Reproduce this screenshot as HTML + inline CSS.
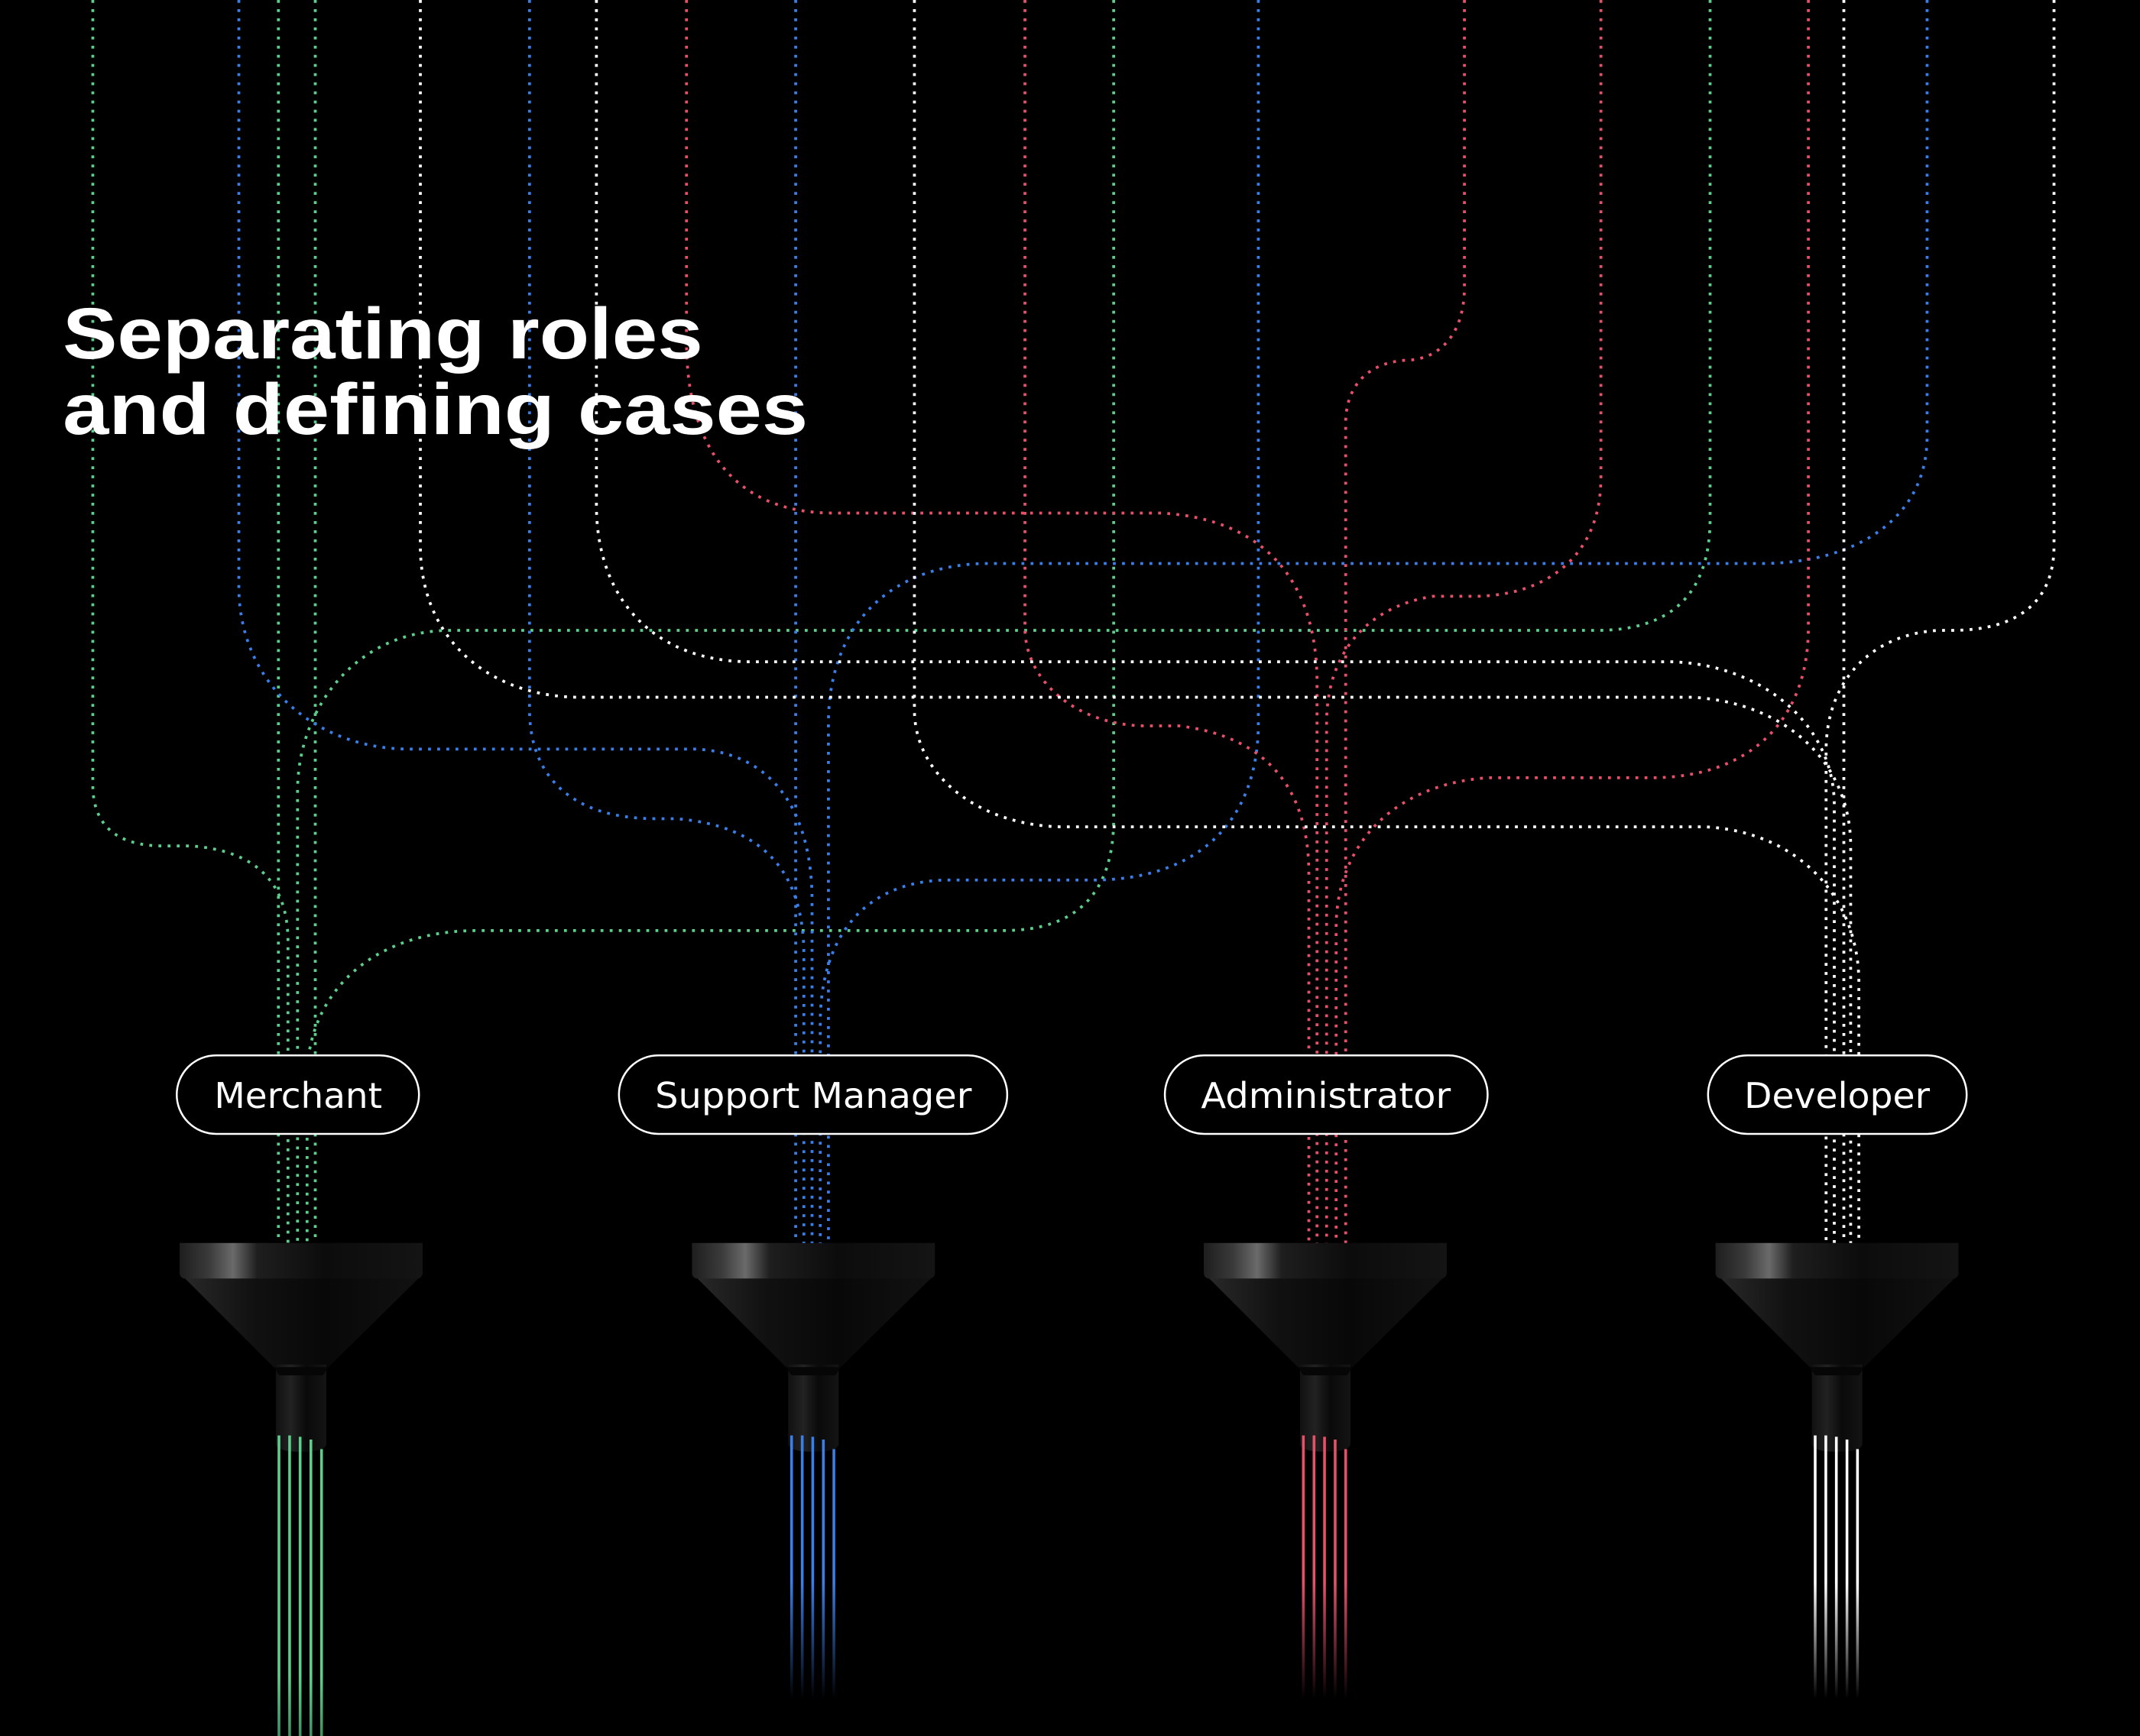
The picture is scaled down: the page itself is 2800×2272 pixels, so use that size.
<!DOCTYPE html>
<html><head><meta charset="utf-8"><style>
html,body{margin:0;padding:0;background:#000;}
svg{display:block;}
</style></head><body>
<svg width="2800" height="2272" viewBox="0 0 1568 1272.3" xmlns="http://www.w3.org/2000/svg">
<defs>
<linearGradient id="rim" x1="0" y1="0" x2="1" y2="0">
<stop offset="0" stop-color="#1e1e1e"/><stop offset="0.12" stop-color="#3a3a3a"/><stop offset="0.22" stop-color="#6a6a6a"/><stop offset="0.32" stop-color="#1e1e1e"/><stop offset="0.6" stop-color="#0c0c0c"/><stop offset="1" stop-color="#141414"/>
</linearGradient>
<linearGradient id="cone" x1="0" y1="0" x2="1" y2="0">
<stop offset="0" stop-color="#2a2a2a"/><stop offset="0.3" stop-color="#111"/><stop offset="0.6" stop-color="#080808"/><stop offset="1" stop-color="#121212"/>
</linearGradient>
<linearGradient id="neck" x1="0" y1="0" x2="1" y2="0">
<stop offset="0" stop-color="#111"/><stop offset="0.3" stop-color="#222"/><stop offset="0.6" stop-color="#0a0a0a"/><stop offset="1" stop-color="#141414"/>
</linearGradient>
<linearGradient id="fadeB" x1="0" y1="1055" x2="0" y2="1245" gradientUnits="userSpaceOnUse"><stop offset="0.55" stop-color="#3a7ee8"/><stop offset="1" stop-color="#3a7ee8" stop-opacity="0"/></linearGradient>
<linearGradient id="fadeR" x1="0" y1="1055" x2="0" y2="1245" gradientUnits="userSpaceOnUse"><stop offset="0.55" stop-color="#e8506a"/><stop offset="1" stop-color="#e8506a" stop-opacity="0"/></linearGradient>
<linearGradient id="fadeW" x1="0" y1="1055" x2="0" y2="1245" gradientUnits="userSpaceOnUse"><stop offset="0.55" stop-color="#ffffff"/><stop offset="1" stop-color="#ffffff" stop-opacity="0"/></linearGradient>
<linearGradient id="fadeG" x1="0" y1="1055" x2="0" y2="1272" gradientUnits="userSpaceOnUse"><stop offset="0.8" stop-color="#5ccf8c"/><stop offset="1" stop-color="#5ccf8c" stop-opacity="0.7"/></linearGradient>
<g id="funnel">
<path d="M-89,912 H89 V934 L20,1002 H-20 L-88,934 Z" fill="url(#cone)"/>
<path d="M-89,911 H89 V933 Q89,936 86,937 H-86 Q-89,936 -89,933 Z" fill="url(#rim)"/>
<path d="M-18.5,1000 H18.5 V1058 Q18.5,1064 0,1064 Q-18.5,1064 -18.5,1058 Z" fill="url(#neck)"/>
<path d="M-20,1002 L-16,1008 H16 L20,1002 Z" fill="#060606"/>
</g>
</defs>
<rect width="1568" height="1272.3" fill="#000"/>
<g fill="none" stroke-width="2.1" stroke-dasharray="2.1 4.6">
<g stroke="#5ccf8c">
<path d="M68,0 V575 Q68,620 120,620 H140 Q211,625 211,690 V912"/>
<path d="M204,0 V912"/>
<path d="M231,0 V912"/>
<path d="M1253,0 V380 Q1253,462 1170,462 H330 C260,462 218,520 218,580 V912"/>
<path d="M816,0 V600 Q816,682 735,682 H350 C270,682 225,730 225,790 V912"/>
</g>
<g stroke="#3a7ee8">
<path d="M583,0 V912"/>
<path d="M388,0 V520 C388,570 420,600 480,600 H495 C560,605 589,640 589,700 V912"/>
<path d="M175,0 V430 C175,500 230,549 300,549 H510 C570,552 595,600 595,660 V912"/>
<path d="M922,0 V530 C922,600 880,645 800,645 H690 C630,648 601,690 601,750 V912"/>
<path d="M1412,0 V320 C1412,380 1360,413 1290,413 H720 C650,415 607,460 607,530 V912"/>
</g>
<g stroke="#e8506a">
<path d="M503,0 V250 C503,330 540,376 610,376 H850 C930,380 965,430 965,500 V912"/>
<path d="M751,0 V460 C751,500 790,532 840,532 H864 C930,540 959,580 959,640 V912"/>
<path d="M1073,0 V210 C1073,250 1050,264 1030,264 C1000,266 986,285 986,310 V912"/>
<path d="M1173,0 V350 C1173,410 1130,437 1080,437 H1050 C1000,445 972,480 972,530 V912"/>
<path d="M1325,0 V460 C1325,530 1280,570 1210,570 H1090 C1020,575 979,620 979,680 V912"/>
</g>
<g stroke="#ffffff">
<path d="M1505,0 V400 C1505,440 1480,462 1430,462 H1420 C1370,465 1338,500 1338,550 V912"/>
<path d="M437,0 V370 C437,440 480,485 550,485 H1225 C1290,487 1344,530 1344,590 V912"/>
<path d="M1351,0 V912"/>
<path d="M308,0 V400 C308,470 360,511 425,511 H1240 C1310,515 1356,560 1356,620 V912"/>
<path d="M670,0 V520 C670,570 720,606 780,606 H1250 C1320,610 1362,660 1362,720 V912"/>
</g>
</g>
<g font-family="Liberation Sans, DejaVu Sans, sans-serif" fill="#fff" font-weight="bold">
<text x="46" y="262.5" font-size="53" textLength="469" lengthAdjust="spacingAndGlyphs">Separating roles</text>
<text x="46" y="318" font-size="53" textLength="546" lengthAdjust="spacingAndGlyphs">and defining cases</text>
</g>
<g fill="#000" stroke="#fff" stroke-width="1.4">
<rect x="129.5" y="773.5" width="177.5" height="57.5" rx="28.75"/>
<rect x="453.5" y="773.5" width="284.5" height="57.5" rx="28.75"/>
<rect x="853.5" y="773.5" width="236.5" height="57.5" rx="28.75"/>
<rect x="1251.5" y="773.5" width="189.5" height="57.5" rx="28.75"/>
</g>
<g font-family="DejaVu Sans, Liberation Sans, sans-serif" fill="#fff" font-size="26" text-anchor="middle">
<text x="218.5" y="812" textLength="123" lengthAdjust="spacingAndGlyphs">Merchant</text>
<text x="596" y="812" textLength="232" lengthAdjust="spacingAndGlyphs">Support Manager</text>
<text x="971.5" y="812" textLength="183" lengthAdjust="spacingAndGlyphs">Administrator</text>
<text x="1346" y="812" textLength="136" lengthAdjust="spacingAndGlyphs">Developer</text>
</g>
<use href="#funnel" x="220.6"/>
<use href="#funnel" x="596"/>
<use href="#funnel" x="971"/>
<use href="#funnel" x="1346"/>
<g stroke-width="2">
<g stroke="url(#fadeG)">
<path d="M204.4,1052 V1272.3 M212.2,1052 V1272.3 M219.9,1053 V1272.3 M227.8,1055 V1272.3 M235.6,1062 V1272.3"/>
</g>
<g stroke="url(#fadeB)">
<path d="M580,1052 V1245 M587.8,1052 V1245 M595.5,1053 V1245 M603.3,1055 V1245 M611,1062 V1245"/>
</g>
<g stroke="url(#fadeR)">
<path d="M955,1052 V1245 M962.8,1052 V1245 M970.5,1053 V1245 M978.3,1055 V1245 M986,1062 V1245"/>
</g>
<g stroke="url(#fadeW)">
<path d="M1330,1052 V1245 M1337.8,1052 V1245 M1345.5,1053 V1245 M1353.3,1055 V1245 M1361,1062 V1245"/>
</g>
</g>
</svg>
</body></html>
